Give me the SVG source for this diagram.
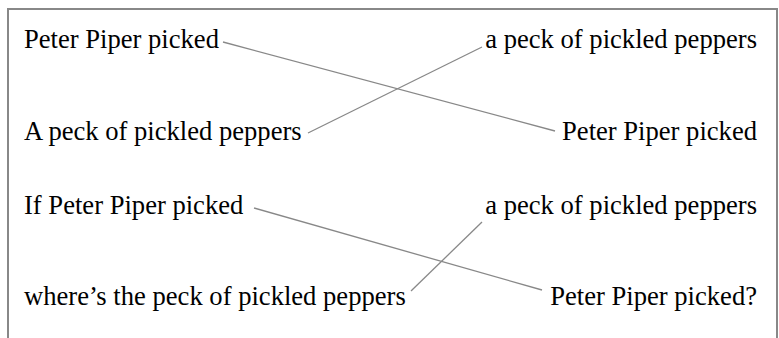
<svg xmlns="http://www.w3.org/2000/svg" width="779" height="338" viewBox="0 0 779 338">
<style>
text{font-family:"Liberation Serif","Times New Roman",serif;font-size:26.6px;fill:#000}
.r{text-anchor:end}
.c line{stroke:#888;stroke-width:1.3}
</style>
<rect x="0" y="0" width="779" height="338" fill="#fff"/>
<path d="M8 345V9H777V345" fill="none" stroke="#888" stroke-width="2"/>
<g id="l1"><text x="24" y="48">Peter Piper picked</text></g>
<g id="l2"><text x="24" y="140">A peck of pickled peppers</text></g>
<g id="r1"><text class="r" x="757" y="48">a peck of pickled peppers</text></g>
<g id="r2"><text class="r" x="757" y="140">Peter Piper picked</text></g>
<g id="l3"><text x="24" y="214">If Peter Piper picked</text></g>
<g id="l4"><text x="24" y="305">where’s the peck of pickled peppers</text></g>
<g id="r3"><text class="r" x="757" y="214">a peck of pickled peppers</text></g>
<g id="r4"><text class="r" x="757" y="305">Peter Piper picked?</text></g>
<g class="c" id="connectors">
<line x1="223" y1="42" x2="555" y2="131"/>
<line x1="308" y1="133" x2="482" y2="47"/>
<line x1="254" y1="208" x2="542" y2="290"/>
<line x1="411" y1="291" x2="482" y2="222"/>
</g>
</svg>
